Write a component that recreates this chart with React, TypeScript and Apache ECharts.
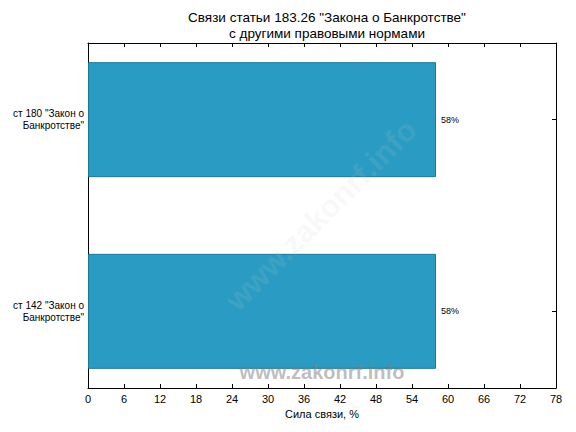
import React, { useEffect, useRef } from "react";
import * as echarts from "echarts";

const titleLines = ['Связи статьи 183.26 "Закона о Банкротстве"', "с другими правовыми нормами"];
const categories = ['ст 142 "Закон о\nБанкротстве"', 'ст 180 "Закон о\nБанкротстве"'];
const values = [58, 58];
const xMin = 0;
const xMax = 78;
const xStep = 6;
const axisName = "Сила связи, %";
// positions of the categories on a 10-slot axis (matplotlib-like margins)
const slotCount = 10;
const slotIndex = [2, 7];

export default function App() {
  const ref = useRef<HTMLDivElement>(null);
  useEffect(() => {
    if (!ref.current) return;
    const chart = echarts.init(ref.current, null, { renderer: "svg" });
    const slots: string[] = Array.from({ length: slotCount }, () => "");
    const data: any[] = Array.from({ length: slotCount }, () => "-");
    slotIndex.forEach((s, i) => {
      slots[s] = categories[i];
      data[s] = values[i];
    });
    const isCat = (idx: number) => slotIndex.indexOf(idx) >= 0;
    const font = "Liberation Sans, Arial, sans-serif";
    chart.setOption({
      animation: false,
      textStyle: { fontFamily: font },
      title: {
        text: titleLines.join("\n"),
        left: 322,
        textAlign: "center",
        top: 4,
        textStyle: { fontSize: 13.5, fontWeight: "normal", color: "#000", lineHeight: 16, fontFamily: font },
      },
      grid: { left: 88, right: 20, top: 43, bottom: 44 },
      xAxis: [
        {
          type: "value",
          min: xMin,
          max: xMax,
          interval: xStep,
          position: "bottom",
          name: axisName,
          nameLocation: "middle",
          nameGap: 20,
          nameTextStyle: { fontSize: 11, color: "#000", fontFamily: font },
          axisLine: { show: true, lineStyle: { color: "#000", width: 1 } },
          axisTick: { show: true, inside: true, length: 4, lineStyle: { color: "#000" } },
          axisLabel: { fontSize: 11, color: "#000", margin: 5, fontFamily: font },
          splitLine: { show: false },
        },
        {
          type: "value",
          min: xMin,
          max: xMax,
          interval: xStep,
          position: "top",
          axisLine: { show: true, lineStyle: { color: "#000", width: 1 } },
          axisTick: { show: true, inside: true, length: 4, lineStyle: { color: "#000" } },
          axisLabel: { show: false },
          splitLine: { show: false },
        },
      ],
      yAxis: [
        {
          type: "category",
          data: slots,
          boundaryGap: false,
          position: "left",
          axisLine: { show: true, onZero: false, lineStyle: { color: "#000", width: 1 } },
          axisTick: { show: true, inside: true, length: 4, interval: (i: number) => isCat(i), lineStyle: { color: "#000" } },
          axisLabel: {
            interval: (i: number) => isCat(i),
            fontSize: 10,
            color: "#000",
            align: "right",
            lineHeight: 12,
            margin: 4,
            fontFamily: font,
          },
          splitLine: { show: false },
        },
        {
          type: "category",
          data: slots,
          boundaryGap: false,
          position: "right",
          axisLine: { show: true, onZero: false, lineStyle: { color: "#000", width: 1 } },
          axisTick: { show: true, inside: true, length: 4, interval: (i: number) => isCat(i), lineStyle: { color: "#000" } },
          axisLabel: { show: false },
          splitLine: { show: false },
        },
      ],
      series: [
        {
          type: "bar",
          xAxisIndex: 0,
          yAxisIndex: 0,
          data,
          barWidth: "300%",
          itemStyle: { color: "#2a9cc3", borderColor: "#1d7894", borderWidth: 1 },
          label: {
            show: true,
            position: "right",
            distance: 5,
            formatter: (p: any) => p.value + "%",
            fontSize: 9,
            color: "#000",
            fontFamily: font,
          },
        },
      ],
      graphic: [
        {
          type: "text",
          x: 321,
          y: 215,
          rotation: Math.PI / 4,
          style: {
            text: "www.zakonrf.info",
            x: 0,
            y: 0,
            align: "center",
            verticalAlign: "middle",
            font: "bold 31px Liberation Sans, Arial, sans-serif",
            fill: "rgba(200,200,200,0.14)",
          },
          z: 100,
        },
        {
          type: "text",
          x: 322,
          y: 372,
          style: {
            text: "www.zakonrf.info",
            align: "center",
            verticalAlign: "middle",
            font: "bold 20px Liberation Sans, Arial, sans-serif",
            fill: "rgba(125,125,125,0.5)",
          },
          z: 100,
        },
      ],
    });
    return () => chart.dispose();
  }, []);
  return <div ref={ref} style={{ width: 576, height: 432, position: "absolute", left: 0, top: 0, background: "#fff" }} />;
}
